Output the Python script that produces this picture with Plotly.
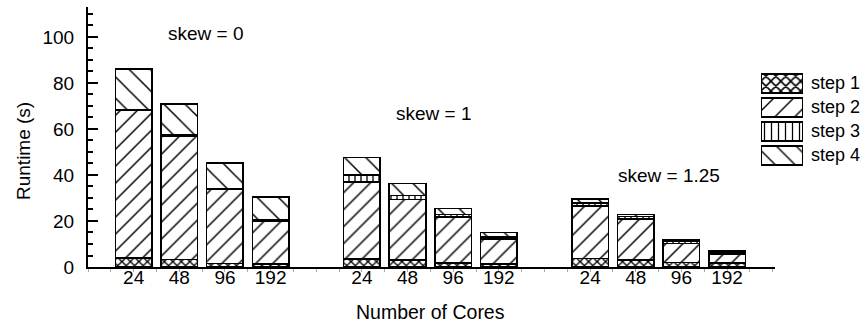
import plotly.graph_objects as go

# ---- data ----
cores = ["24", "48", "96", "192"]
skews = ["skew = 0", "skew = 1", "skew = 1.25"]
step_names = ["step 1", "step 2", "step 3", "step 4"]

# values per group (skew) in order of cores
step1 = [3.9, 3.3, 1.6, 1.3,   3.6, 3.0, 1.7, 1.3,   3.7, 3.0, 2.0, 1.7]
step2 = [64.3, 53.7, 32.3, 18.8, 33.4, 26.3, 20.0, 10.9, 22.7, 17.8, 8.3, 4.0]
step3 = [0.3, 0.3, 0.3, 0.3,   3.0, 1.7, 1.1, 0.9,   1.5, 1.1, 0.7, 0.7]
step4 = [17.5, 13.6, 10.9, 10.0, 7.6, 5.3, 2.7, 1.9,  1.6, 0.9, 0.7, 0.6]

steps = [step1, step2, step3, step4]

# ---- styling ----
FONT = "Liberation Sans, Arial, sans-serif"
shapes_ = ["x", "/", "|", "\\"]
psize = [6, 12, 6, 15]
psol = [0.4, 0.12, 0.22, 0.1]
leg_psize = [7, 14, 7, 14]

# positions: group g, core i -> g*5 + i
xpos = [g * 5 + i for g in range(len(skews)) for i in range(len(cores))]

fig = go.Figure()
for k, vals in enumerate(steps):
    fig.add_trace(go.Bar(
        x=xpos, y=vals, name=step_names[k], width=0.8,
        marker=dict(color="white",
                    line=dict(color="black", width=1.6),
                    pattern=dict(shape=shapes_[k], size=psize[k], solidity=psol[k],
                                 fgcolor="black", bgcolor="white", fillmode="replace")),
        showlegend=False,
    ))

# custom legend swatches drawn as bars on a separate small axis
fig.add_trace(go.Bar(
    x=[1, 1, 1, 1], y=[0, 1, 2, 3], orientation="h", width=0.8,
    xaxis="x2", yaxis="y2", showlegend=False, hoverinfo="skip",
    marker=dict(color="white", line=dict(color="black", width=1.6),
                pattern=dict(shape=shapes_, size=leg_psize, solidity=[0.4, 0.1, 0.18, 0.1],
                             fgcolor="black", bgcolor="white", fillmode="replace")),
))

L, R, T, B = 88, 5, 7, 55
W, H = 865, 322
pw = W - L - R
ph = H - T - B

def px_x(p):
    return (p - L) / pw

def px_y(p):
    return (H - B - p) / ph

annotations = []
# group labels
skew_pos = [(1.58, 101.6), (6.57, 66.9), (11.72, 39.9)]
for s, (ax_, ay_) in zip(skews, skew_pos):
    annotations.append(dict(text=s, x=ax_, y=ay_, xref="x", yref="y", showarrow=False,
                            xanchor="center", yanchor="middle",
                            font=dict(family=FONT, size=19, color="black")))
# legend labels
for k, n in enumerate(step_names):
    annotations.append(dict(text=n, x=px_x(809), y=k, xref="paper", yref="y2",
                            xanchor="left", yanchor="middle", showarrow=False,
                            font=dict(family=FONT, size=18, color="black")))
# axis titles
annotations.append(dict(text="Number of Cores", x=px_x(430.5), y=px_y(312), xref="paper", yref="paper",
                        xanchor="center", yanchor="middle",
                        showarrow=False, font=dict(family=FONT, size=19.5, color="black")))
annotations.append(dict(text="Runtime (s)", x=px_x(23), y=px_y(151), xref="paper", yref="paper",
                        xanchor="center", yanchor="middle",
                        textangle=-90, showarrow=False, font=dict(family=FONT, size=19, color="black")))

fig.update_layout(
    width=W, height=H, barmode="stack",
    margin=dict(l=L, r=R, t=T, b=B),
    plot_bgcolor="white", paper_bgcolor="white",
    font=dict(family=FONT, size=18, color="black"),
    xaxis=dict(domain=[0, px_x(775)], range=[-1.0, 14.05], tickmode="array",
               tickvals=xpos, ticktext=cores * len(skews), ticks="",
               showline=True, linecolor="black", linewidth=2, showgrid=False, zeroline=False,
               ticklabelstandoff=-8, automargin=False,
               minor=dict(tick0=-0.5, dtick=0.5, ticks="outside", ticklen=3, tickcolor="#aaaaaa",
                          showgrid=False),
               tickfont=dict(family=FONT, size=19)),
    yaxis=dict(range=[0, 113], tick0=0, dtick=20, ticks="inside", ticklen=10, tickwidth=1.5,
               tickcolor="black", showline=True, linecolor="black", linewidth=2,
               showgrid=False, zeroline=False, ticklabelstandoff=8, automargin=False,
               minor=dict(dtick=5, ticks="inside", ticklen=5, tickwidth=1.5, tickcolor="black",
                          showgrid=False),
               tickfont=dict(family=FONT, size=19)),
    xaxis2=dict(domain=[px_x(761), px_x(803)], range=[0, 1], visible=False, anchor="y2"),
    yaxis2=dict(domain=[px_y(167.3), px_y(71.3)], range=[3.5, -0.5], visible=False, anchor="x2"),
    annotations=annotations,
)

fig.write_html("out.html", config={"displayModeBar": False},
               post_script="document.body.style.margin='0px';")
